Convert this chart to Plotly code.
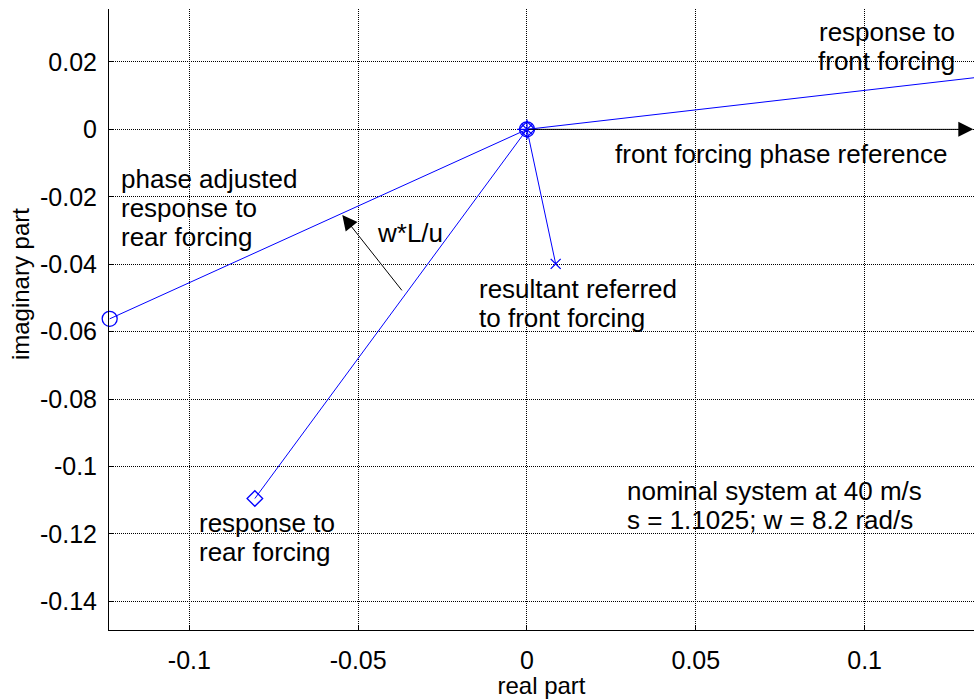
import plotly.graph_objects as go

# ---- data ----
origin = [0.0, 0.0]
front_response = [0.16, 0.0185]          # response to front forcing (beyond right edge)
rear_response = [-0.0806, -0.1095]       # response to rear forcing
phase_adjusted = [-0.1236, -0.0562]      # phase adjusted response to rear forcing
resultant = [0.0085, -0.0399]            # resultant referred to front forcing
wlu_tail = [-0.0367, -0.0482]            # w*L/u arrow tail (on rear response line)
wlu_head = [-0.0547, -0.0254]            # w*L/u arrow head (on phase adjusted line)
ref_tip = [0.1322, 0.0]                  # front forcing phase reference arrow tip

x_ticks = [-0.1, -0.05, 0, 0.05, 0.1]
x_tick_labels = ["-0.1", "-0.05", "0", "0.05", "0.1"]
y_ticks = [0.02, 0, -0.02, -0.04, -0.06, -0.08, -0.1, -0.12, -0.14]
y_tick_labels = ["0.02", "0", "-0.02", "-0.04", "-0.06", "-0.08", "-0.1", "-0.12", "-0.14"]

x_range = [-0.1238, 0.1324]
y_range = [-0.1485, 0.0357]

x_title = "real part"
y_title = "imaginary part"

# text blocks: (lines, x, y of first line, anchor)
text_blocks = [
    (["response to", "front forcing"], 0.1275, 0.0290, "right"),
    (["front forcing phase reference"], 0.0254, -0.0073, "left"),
    (["phase adjusted", "response to", "rear forcing"], -0.1209, -0.0147, "left"),
    (["w*L/u"], -0.0451, -0.0306, "left"),
    (["resultant referred", "to front forcing"], -0.0149, -0.0474, "left"),
    (["response to", "rear forcing"], -0.0977, -0.1167, "left"),
    (["nominal system at 40 m/s", "s = 1.1025; w = 8.2 rad/s"], 0.0289, -0.1073, "left"),
]
LINE_STEP = 0.00865

BLUE = "#0000ff"
FONT = "Liberation Sans, Arial, sans-serif"

fig = go.Figure()

def seg(p, sym, size, clip=False):
    fig.add_trace(go.Scatter(
        x=[origin[0], p[0]], y=[origin[1], p[1]],
        mode="lines+markers",
        line=dict(color=BLUE, width=1),
        marker=dict(symbol=sym, size=size, color=BLUE,
                    line=dict(color=BLUE, width=1.3)),
        cliponaxis=clip, hoverinfo="skip"))

seg(front_response, "cross-thin-open", 14, clip=True)
seg(phase_adjusted, "circle-open", 15)
seg(rear_response, "diamond-open", 12)
seg(resultant, "x-thin-open", 10)

annotations = []
for lines, x, y0, anchor in text_blocks:
    for i, line in enumerate(lines):
        annotations.append(dict(
            x=x, y=y0 - i * LINE_STEP, xref="x", yref="y",
            text=line, showarrow=False, xanchor=anchor, yanchor="middle",
            font=dict(family=FONT, size=26, color="black")))

# front forcing phase reference arrow
annotations.append(dict(
    x=ref_tip[0], y=ref_tip[1], ax=origin[0], ay=origin[1],
    xref="x", yref="y", axref="x", ayref="y", text="",
    showarrow=True, arrowhead=2, arrowsize=3, arrowwidth=1, arrowcolor="black"))
# w*L/u arrow
annotations.append(dict(
    x=wlu_head[0], y=wlu_head[1], ax=wlu_tail[0], ay=wlu_tail[1],
    xref="x", yref="y", axref="x", ayref="y", text="",
    showarrow=True, arrowhead=2, arrowsize=3, arrowwidth=1, arrowcolor="black"))
# y axis title (placed as rotated text)
annotations.append(dict(
    x=-0.1029, y=0.557, xref="paper", yref="paper", text=y_title,
    textangle=-90, showarrow=False, xanchor="center", yanchor="middle",
    font=dict(family=FONT, size=24, color="black")))

axis_common = dict(
    showgrid=True, gridcolor="black", griddash="1px,1px", gridwidth=1,
    zeroline=False, showline=True, linecolor="black", linewidth=1,
    ticks="inside", ticklen=5, tickcolor="black", mirror=False,
    tickfont=dict(family=FONT, size=25, color="black"),
    automargin=False,
)

fig.update_layout(
    width=974, height=699,
    margin=dict(l=109, r=0, t=9, b=69),
    paper_bgcolor="white", plot_bgcolor="white",
    showlegend=False,
    annotations=annotations,
    xaxis=dict(range=x_range, tickvals=x_ticks, ticktext=x_tick_labels,
               ticklabelstandoff=8,
               title=dict(text=x_title, standoff=10,
                          font=dict(family=FONT, size=24, color="black")),
               **axis_common),
    yaxis=dict(range=y_range, tickvals=y_ticks, ticktext=y_tick_labels,
               ticklabelstandoff=6,
               **axis_common),
)

fig.write_html("out.html")
